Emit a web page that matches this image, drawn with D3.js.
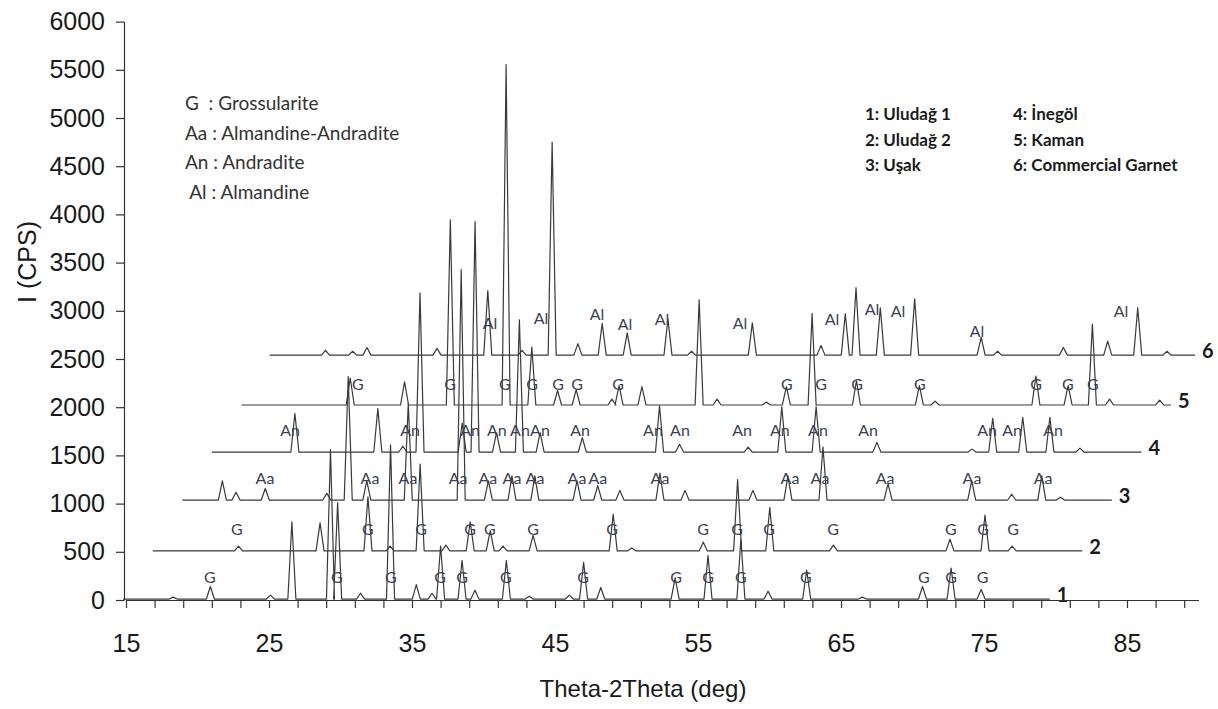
<!DOCTYPE html>
<html>
<head>
<meta charset="utf-8">
<script src="https://cdn.jsdelivr.net/npm/d3@7"></script>
<style>
  body { margin: 0; background: #fff; }
  text { white-space: pre; }
</style>
</head>
<body>
<svg id="chart" width="1218" height="709"></svg>
<script>
// ---- data ----
const sampleLabels = ['1', '2', '3', '4', '5', '6'];
const sampleLegend = ['1: Uludağ 1', '2: Uludağ 2', '3: Uşak', '4: İnegöl', '5: Kaman', '6: Commercial Garnet'];
const phaseLegend = ['G  : Grossularite', 'Aa : Almandine-Andradite', 'An : Andradite', ' Al : Almandine'];
const phaseCodes = ['G', 'G', 'Aa', 'An', 'G', 'Al'];   // phase marked on each pattern
const yTickValues = [0, 500, 1000, 1500, 2000, 2500, 3000, 3500, 4000, 4500, 5000, 5500, 6000];
const xTickLabels = [15, 25, 35, 45, 55, 65, 75, 85];

// background counts of each pattern (cps) and its scan range (2theta)
const background = [10, 10, 37, 35, 23, 40];
const scanStart = [14.8, 14.8, 14.8, 14.8, 14.8, 14.7];
const scanEnd = [79.6, 79.8, 79.8, 79.8, 79.8, 79.4];

// peaks: [2theta, intensity above background]
const peaks1 = [[18.3, 20], [20.9, 130], [25.1, 40], [26.6, 800], [29.3, 1550], [29.8, 1000], [31.4, 60],
  [33.5, 1600], [35.3, 150], [36.4, 60], [37.0, 550], [38.5, 400], [39.4, 90], [41.6, 400], [43.2, 30],
  [46.0, 40], [47.0, 380], [48.2, 120], [53.4, 220], [55.7, 450], [58.0, 620], [59.9, 80], [62.6, 300],
  [66.5, 20], [70.7, 130], [72.7, 320], [74.8, 100]];
const peaks2 = [[20.8, 50], [26.5, 290], [29.85, 560], [31.4, 50], [33.5, 900], [35.3, 60], [37.0, 300],
  [38.4, 210], [39.3, 50], [41.4, 160], [47.0, 380], [48.3, 30], [53.3, 90], [55.7, 740], [57.95, 450],
  [62.4, 60], [70.55, 120], [73.0, 370], [74.9, 50]];
const peaks3 = [[17.6, 200], [18.55, 80], [20.6, 120], [24.9, 70], [26.4, 1280], [27.7, 200], [30.6, 1000],
  [34.3, 2390], [36.2, 200], [37.85, 250], [39.45, 250], [42.4, 200], [43.85, 150], [45.4, 100],
  [48.2, 280], [49.95, 100], [54.7, 100], [57.15, 250], [59.6, 550], [64.15, 170], [70.0, 200],
  [72.8, 60], [74.9, 250], [76.2, 30]];
const peaks4 = [[20.6, 400], [26.4, 450], [28.15, 60], [29.35, 1650], [32.3, 300], [33.2, 2390], [34.7, 200],
  [36.3, 1370], [37.75, 200], [40.7, 150], [46.1, 480], [47.5, 80], [52.3, 50], [54.65, 470], [57.05, 470],
  [61.3, 100], [67.95, 30], [69.4, 350], [71.5, 360], [73.4, 360], [75.5, 40]];
const peaks5 = [[22.4, 280], [26.2, 240], [29.4, 1920], [33.3, 3530], [35.1, 600], [36.9, 150], [38.2, 160],
  [40.7, 60], [41.2, 200], [42.8, 190], [46.8, 1090], [48.05, 60], [51.5, 30], [52.9, 190], [54.7, 950],
  [57.8, 250], [62.2, 200], [63.3, 40], [70.35, 300], [72.6, 200], [74.3, 840], [75.5, 60], [79.0, 50]];
const peaks6 = [[18.6, 50], [20.5, 40], [21.5, 80], [26.4, 70], [29.95, 670], [32.35, 50], [34.45, 2210],
  [36.25, 120], [37.95, 330], [39.7, 230], [42.55, 375], [44.2, 40], [48.45, 335], [53.25, 100],
  [54.95, 430], [55.7, 700], [57.4, 490], [59.8, 585], [64.45, 185], [65.6, 40], [70.2, 80], [73.3, 145],
  [75.4, 490], [77.45, 40]];

// phase marks: [2theta, height of label baseline above background]
const marks1 = [[20.87, 170], [29.75, 170], [33.52, 170], [36.96, 170], [38.5, 170], [41.57, 170],
  [46.96, 170], [53.46, 170], [55.7, 170], [58.0, 170], [62.55, 170], [70.8, 170], [72.7, 170], [74.9, 170]];
const marks2 = [[20.69, 166], [29.85, 166], [33.56, 166], [36.99, 166], [38.38, 166], [41.39, 166],
  [46.92, 166], [53.28, 166], [55.66, 166], [57.9, 166], [62.37, 166], [70.62, 166], [72.86, 166], [74.96, 166]];
const marks3 = [[20.58, 166], [27.92, 166], [30.58, 166], [34.08, 166], [36.17, 166], [37.85, 166],
  [39.46, 166], [42.4, 166], [43.86, 166], [48.2, 166], [57.29, 166], [59.39, 166], [63.94, 166],
  [70.02, 166], [74.99, 166]];
const marks4 = [[20.26, 166], [28.65, 166], [32.85, 166], [34.73, 166], [36.34, 166], [37.74, 166],
  [40.54, 166], [45.64, 166], [47.53, 166], [51.87, 166], [54.52, 166], [57.18, 166], [60.68, 166],
  [69.0, 166], [70.75, 166], [73.62, 166]];
const marks5 = [[22.94, 155], [29.38, 155], [33.22, 155], [35.11, 155], [36.93, 155], [38.26, 155],
  [41.13, 155], [52.94, 155], [55.32, 155], [57.84, 155], [62.24, 155], [70.36, 155], [72.59, 155], [74.34, 155]];
const marks6 = [[30.1, 270], [33.67, 320], [37.59, 363], [39.55, 260], [42.13, 310], [47.59, 270],
  [54.02, 310], [56.82, 415], [58.64, 395], [64.16, 187], [74.23, 395]];

const patterns = [peaks1, peaks2, peaks3, peaks4, peaks5, peaks6];
const phaseMarks = [marks1, marks2, marks3, marks4, marks5, marks6];

// ---- layout ----
const width = 1218;
const height = 709;
const xShiftStep = 2.07;   // each pattern is shifted right (deg) ...
const yShiftStep = 500;    // ... and up (cps)
const peakHalfWidth = 0.28;

const svg = d3.select('#chart');

const x = d3.scaleLinear().domain([15, 90]).range([126, 1198.5]);
const y = d3.scaleLinear().domain([0, 6000]).range([600, 21.6]);

const line = d3.line()
  .x(d => x(d[0]))
  .y(d => y(d[1]));

// pattern lines
patterns.forEach((peaks, i) => {
  const dx = i * xShiftStep;
  const base = i * yShiftStep + background[i];
  const pts = [[scanStart[i] + dx, base]];
  peaks.forEach(([t, h]) => {
    pts.push([t - peakHalfWidth + dx, base]);
    pts.push([t + dx, base + h]);
    pts.push([t + peakHalfWidth + dx, base]);
  });
  pts.push([scanEnd[i] + dx, base]);

  svg.append('path')
    .datum(pts)
    .attr('fill', 'none')
    .attr('stroke', '#3a3a3a')
    .attr('stroke-width', 1.2)
    .attr('stroke-linejoin', 'round')
    .attr('d', line);

  // phase marks
  svg.append('g')
    .selectAll('text')
    .data(phaseMarks[i])
    .join('text')
    .attr('x', d => x(d[0] + dx))
    .attr('y', d => y(base + d[1]))
    .attr('text-anchor', 'middle')
    .attr('font-family', 'Lato, sans-serif')
    .attr('font-size', 16)
    .attr('fill', '#3c3f55')
    .text(phaseCodes[i]);

  // pattern number
  svg.append('text')
    .attr('x', x(scanEnd[i] + dx) + 7)
    .attr('y', y(base) - 4)
    .attr('dy', '0.35em')
    .attr('font-family', 'Lato, sans-serif')
    .attr('font-weight', 'bold')
    .attr('font-size', 20)
    .attr('fill', '#1a1a1a')
    .text(sampleLabels[i]);
});

// axes
const xAxis = svg.append('g')
  .attr('transform', `translate(0,${y(0)})`)
  .call(d3.axisBottom(x)
    .tickValues(d3.range(15, 90, 2))
    .tickFormat(d => xTickLabels.includes(d) ? d : '')
    .tickSize(8)
    .tickSizeOuter(0)
    .tickPadding(26));

const yAxis = svg.append('g')
  .attr('transform', `translate(${x(15) - 2},0)`)
  .call(d3.axisLeft(y)
    .tickValues(yTickValues)
    .tickFormat(d3.format('d'))
    .tickSize(8)
    .tickSizeOuter(0)
    .tickPadding(11));

[xAxis, yAxis].forEach(g => {
  g.selectAll('path, line').attr('stroke', '#333').attr('stroke-width', 1.2);
  g.selectAll('text')
    .attr('font-family', 'Liberation Sans, Arial, sans-serif')
    .attr('font-size', 25)
    .attr('fill', '#1a1a1a');
});

// axis titles
svg.append('text')
  .attr('x', 643)
  .attr('y', 697)
  .attr('text-anchor', 'middle')
  .attr('font-family', 'Liberation Sans, Arial, sans-serif')
  .attr('font-size', 24)
  .attr('fill', '#1a1a1a')
  .text('Theta-2Theta (deg)');

svg.append('text')
  .attr('transform', 'translate(36,262) rotate(-90)')
  .attr('text-anchor', 'middle')
  .attr('font-family', 'Liberation Sans, Arial, sans-serif')
  .attr('font-size', 25)
  .attr('fill', '#1a1a1a')
  .text('I (CPS)');

// phase legend
svg.append('g')
  .selectAll('text')
  .data(phaseLegend)
  .join('text')
  .attr('x', 185)
  .attr('y', (d, i) => 110 + i * 29.5)
  .attr('font-family', 'Lato, sans-serif')
  .attr('font-size', 19)
  .attr('fill', '#333')
  .text(d => d);

// sample legend
svg.append('g')
  .selectAll('text')
  .data(sampleLegend)
  .join('text')
  .attr('x', (d, i) => i < 3 ? 865 : 1013)
  .attr('y', (d, i) => 120 + (i % 3) * 25.5)
  .attr('font-family', 'Lato, sans-serif')
  .attr('font-weight', 'bold')
  .attr('font-size', 17)
  .attr('fill', '#1a1a1a')
  .text(d => d);
</script>
</body>
</html>
